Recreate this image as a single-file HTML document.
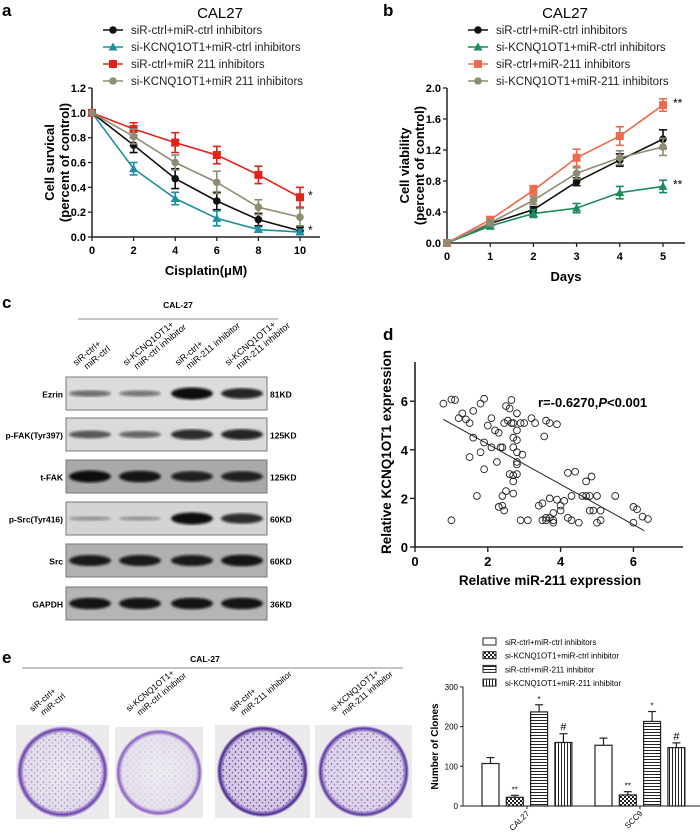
<!DOCTYPE html>
<html><head><meta charset="utf-8"><style>
body{margin:0;background:#fff;}
svg{display:block;font-family:"Liberation Sans",Arial,sans-serif;}
.b{font-weight:bold;}
</style></head><body>
<svg id="fig" width="700" height="838" viewBox="0 0 700 838">
<defs>
<filter id="blur1"><feGaussianBlur stdDeviation="1.2"/></filter>
<radialGradient id="dishLight" cx="50%" cy="50%" r="50%"><stop offset="0" stop-color="#ebe8ef"/><stop offset="0.85" stop-color="#e2dcea"/><stop offset="0.94" stop-color="#6a3fb0"/><stop offset="1" stop-color="#d8d2de"/></radialGradient>
<radialGradient id="dishVLight" cx="50%" cy="50%" r="50%"><stop offset="0" stop-color="#eeecf1"/><stop offset="0.86" stop-color="#e5e0ec"/><stop offset="0.95" stop-color="#8a5fc0"/><stop offset="1" stop-color="#dcd6e2"/></radialGradient>
<radialGradient id="dishDark" cx="50%" cy="50%" r="50%"><stop offset="0" stop-color="#ddd5e8"/><stop offset="0.86" stop-color="#d2c6e2"/><stop offset="0.95" stop-color="#4a2590"/><stop offset="1" stop-color="#d5cedd"/></radialGradient>
<radialGradient id="dishMid" cx="50%" cy="50%" r="50%"><stop offset="0" stop-color="#e5dfec"/><stop offset="0.86" stop-color="#dcd2e8"/><stop offset="0.95" stop-color="#5a35a0"/><stop offset="1" stop-color="#d8d2de"/></radialGradient>
<pattern id="dots" width="6" height="6" patternUnits="userSpaceOnUse"><circle cx="1.5" cy="2" r="0.9" fill="#5a30a8"/><circle cx="4.5" cy="4.8" r="0.7" fill="#6b42b8"/></pattern>
<pattern id="checker" width="4" height="4" patternUnits="userSpaceOnUse"><rect width="4" height="4" fill="#fff"/><rect width="2" height="2" fill="#222"/><rect x="2" y="2" width="2" height="2" fill="#222"/></pattern>
<pattern id="hlines" width="4" height="3" patternUnits="userSpaceOnUse"><rect width="4" height="3" fill="#fff"/><rect width="4" height="1" fill="#222"/></pattern>
<pattern id="vlines" width="3" height="4" patternUnits="userSpaceOnUse"><rect width="3" height="4" fill="#fff"/><rect width="1" height="4" fill="#222"/></pattern>
</defs>
<g id="panelA"></g>
<g id="panelB"></g>
<g id="panelC"></g>
<g id="panelD"></g>
<g id="panelE"></g>
<g id="panelE2"></g>
</svg>
<script>
// ---------- data ----------
const aX = [0,2,4,6,8,10];
const aBlack = [1,0.74,0.47,0.29,0.14,0.05];
const aTeal  = [1,0.55,0.31,0.15,0.06,0.04];
const aRed   = [1,0.87,0.76,0.66,0.50,0.32];
const aGray  = [1,0.81,0.60,0.44,0.24,0.16];
const aErrBlack=[0,0.06,0.08,0.07,0.05,0.03];
const aErrTeal=[0,0.05,0.05,0.06,0.02,0.02];
const aErrRed=[0,0.05,0.08,0.07,0.07,0.08];
const aErrGray=[0,0.06,0.06,0.09,0.06,0.07];
const aYTicks=["0.0","0.2","0.4","0.6","0.8","1.0","1.2"];
const aXTicks=["0","2","4","6","8","10"];
const aLegend=["siR-ctrl+miR-ctrl inhibitors","si-KCNQ1OT1+miR-ctrl inhibitors","siR-ctrl+miR 211 inhibitors","si-KCNQ1OT1+miR 211 inhibitors"];

const bX=[0,1,2,3,4,5];
const bBlack=[0,0.25,0.43,0.79,1.07,1.34];
const bGreen=[0,0.22,0.38,0.45,0.65,0.73];
const bRed=[0,0.30,0.68,1.10,1.38,1.78];
const bGray=[0,0.26,0.55,0.90,1.10,1.24];
const bErrBlack=[0,0.03,0.04,0.05,0.08,0.12];
const bErrGreen=[0,0.04,0.05,0.06,0.08,0.08];
const bErrRed=[0,0.04,0.06,0.11,0.12,0.08];
const bErrGray=[0,0.04,0.05,0.07,0.09,0.11];
const bYTicks=["0.0","0.4","0.8","1.2","1.6","2.0"];
const bLegend=["siR-ctrl+miR-ctrl inhibitors","si-KCNQ1OT1+miR-ctrl inhibitors","siR-ctrl+miR-211 inhibitors","si-KCNQ1OT1+miR-211 inhibitors"];

const dXs=[0.78,1.0,1.1,1.0,1.3,1.2,1.4,1.5,1.6,1.6,1.5,1.7,1.8,1.9,1.8,1.9,1.9,2.0,2.1,2.1,2.2,2.25,2.3,2.35,2.4,2.3,2.4,2.4,2.45,2.5,2.45,2.5,2.55,2.6,2.65,2.6,2.7,2.65,2.7,2.7,2.7,2.7,2.7,2.8,2.8,2.8,2.8,2.8,2.8,2.8,2.95,2.9,3.0,2.9,3.1,3.2,3.3,3.4,3.5,3.55,3.6,3.7,3.5,3.6,3.6,3.7,3.7,3.8,3.8,3.8,3.9,3.9,4.0,4.0,4.1,4.2,4.2,4.3,4.3,4.4,4.5,4.6,4.7,4.7,4.8,4.8,4.85,4.9,5.0,5.0,5.1,5.1,5.5,6.0,6.1,6.0,6.25,6.4];
const dYs=[5.9,6.07,6.05,1.1,5.5,5.3,5.25,5.1,5.6,4.5,3.7,2.1,5.9,6.1,3.9,3.2,4.3,5.0,5.3,4.1,4.8,3.5,4.7,4.1,4.1,1.65,1.7,2.1,1.5,2.3,5.1,5.8,5.2,5.7,5.1,3.0,5.1,6.05,4.5,4.1,2.95,2.7,2.2,4.4,3.5,3.4,3.0,4.8,5.5,3.9,3.8,5.1,5.1,1.1,1.1,5.3,5.1,1.7,1.8,4.55,5.2,5.1,1.1,1.2,1.1,1.2,2.0,1.1,1.4,1.0,5.05,1.95,1.7,1.5,1.9,3.05,1.2,1.1,2.1,3.1,1.0,2.1,2.1,2.7,2.1,1.5,2.9,1.5,2.1,1.0,1.5,1.1,2.1,1.65,1.55,1.0,1.25,1.15];
const dXTicks=["0","2","4","6"];
const dYTicks=["0","2","4","6"];

const eGroups=["CAL27","SCC9"];
const eVals=[[107,22,237,160],[153,28,213,147]];
const eErrs=[[15,5,18,22],[18,8,25,12]];
const eMarks=[["","**","*","#"],["","**","*","#"]];
const eYTicks=["0","100","200","300"];
const eLegend=["siR-ctrl+miR-ctrl inhibitors","si-KCNQ1OT1+miR-ctrl inhibitor","siR-ctrl+miR-211 inhibitor","si-KCNQ1OT1+miR-211 inhibitor"];

const blotRows=["Ezrin","p-FAK(Tyr397)","t-FAK","p-Src(Tyr416)","Src","GAPDH"];
const blotKD=["81KD","125KD","125KD","60KD","60KD","36KD"];
const blotInt=[[0.4,0.35,1,0.85],[0.55,0.45,0.8,0.85],[1,0.95,0.85,0.85],[0.15,0.15,1,0.8],[0.9,0.9,0.9,0.95],[0.95,0.95,0.95,0.95]];
const laneLabels=[["siR-ctrl+","miR-ctrl"],["si-KCNQ1OT1+","miR-ctrl inhibitor"],["siR-ctrl+","miR-211 inhibitor"],["si-KCNQ1OT1+","miR-211 inhibitor"]];

// ---------- helpers ----------
const NS="http://www.w3.org/2000/svg";
function mk(parent,tag,attrs,text){const e=document.createElementNS(NS,tag);for(const k in attrs)e.setAttribute(k,attrs[k]);if(text!==undefined)e.textContent=text;parent.appendChild(e);return e;}

// ---------- line chart ----------
function lineChart(g,cfg){
  const sx=v=>cfg.x0+(v-cfg.xmin)/(cfg.xmax-cfg.xmin)*(cfg.x1-cfg.x0);
  const sy=v=>cfg.y0-(v-cfg.ymin)/(cfg.ymax-cfg.ymin)*(cfg.y0-cfg.y1);
  let t=mk(g,'text',{x:cfg.letterX,y:16,'font-size':17,class:'b'},cfg.letter);
  
  
  t=mk(g,'text',{x:cfg.titleX,y:18,'font-size':15,'text-anchor':'middle'},'CAL27');
  
  
  cfg.series.forEach((s,i)=>{
    const ly=30+i*17;
    const lg=mk(g,'g',{});
    
    
    mk(lg,'line',{x1:cfg.legX,x2:cfg.legX+20,y1:ly,y2:ly,stroke:s.color,'stroke-width':1.5});
    marker(lg,s.shape,cfg.legX+10,ly,s.color);
    mk(lg,'text',{x:cfg.legX+28,y:ly+4,'font-size':11.5,fill:'#222'},cfg.legend[i]);
  });
  const ax=mk(g,'g',{});
  
  
  mk(ax,'line',{x1:cfg.x0,x2:cfg.x0,y1:cfg.y1,y2:cfg.y0,stroke:'#222','stroke-width':1.5});
  mk(ax,'line',{x1:cfg.x0,x2:cfg.axEnd,y1:cfg.y0,y2:cfg.y0,stroke:'#222','stroke-width':1.5});
  cfg.yTicks.forEach(v=>{const y=sy(parseFloat(v));
    mk(ax,'line',{x1:cfg.x0-4,x2:cfg.x0,y1:y,y2:y,stroke:'#222','stroke-width':1.3});
    const tt=mk(ax,'text',{x:cfg.x0-6,y:y+4,'font-size':11,'text-anchor':'end',class:'b'},v);
    
    
  });
  cfg.xTicks.forEach(v=>{const x=sx(parseFloat(v));
    mk(ax,'line',{x1:x,x2:x,y1:cfg.y0,y2:cfg.y0+4,stroke:'#222','stroke-width':1.3});
    const tt=mk(ax,'text',{x:x,y:cfg.y0+17,'font-size':11,'text-anchor':'middle',class:'b'},v);
    
    
  });
  t=mk(ax,'text',{x:(cfg.x0+cfg.axEnd)/2,y:cfg.y0+38,'font-size':13,'text-anchor':'middle',class:'b'},cfg.xTitle);
  
  
  const cy=(cfg.y0+cfg.y1)/2;
  t=mk(ax,'text',{x:0,y:0,'font-size':13,'text-anchor':'middle',class:'b',transform:`translate(${cfg.x0-38},${cy}) rotate(-90)`},cfg.yTitle1);
  
  
  t=mk(ax,'text',{x:0,y:0,'font-size':13,'text-anchor':'middle',class:'b',transform:`translate(${cfg.x0-23},${cy}) rotate(-90)`},'(percent of control)');
  
  
  cfg.series.forEach(s=>{
    const sg=mk(g,'g',{});
    
    
    const pts=cfg.xs.map((x,i)=>sx(x)+','+sy(s.vals[i])).join(' ');
    mk(sg,'polyline',{points:pts,fill:'none',stroke:s.color,'stroke-width':1.6});
    cfg.xs.forEach((x,i)=>{
      const px=sx(x),e=s.err[i];
      if(e>0){const ya=sy(s.vals[i]+e),yb=sy(s.vals[i]-e);
        mk(sg,'line',{x1:px,x2:px,y1:ya,y2:yb,stroke:s.color,'stroke-width':1.6});
        mk(sg,'line',{x1:px-4,x2:px+4,y1:ya,y2:ya,stroke:s.color,'stroke-width':1.6});
        mk(sg,'line',{x1:px-4,x2:px+4,y1:yb,y2:yb,stroke:s.color,'stroke-width':1.6});}
      const m=marker(sg,s.shape,px,sy(s.vals[i]),s.color);
      
      
    });
    if(s.star){const li=cfg.xs.length-1;mk(sg,'text',{x:sx(cfg.xs[li])+cfg.starDx,y:sy(s.vals[li])+cfg.starDy,'font-size':12},s.star);}
  });
}
function marker(g,shape,x,y,c){
  if(shape==='sq')return mk(g,'rect',{x:x-4,y:y-4,width:8,height:8,fill:c});
  if(shape==='tri')return mk(g,'polygon',{points:`${x},${y-4.5} ${x-4.5},${y+3.5} ${x+4.5},${y+3.5}`,fill:c});
  return mk(g,'circle',{cx:x,cy:y,r:3.8,fill:c});
}

lineChart(document.getElementById('panelA'),{letter:'a',letterX:2,titleX:220,legX:103,legend:aLegend,
  x0:92,x1:300,xmin:0,xmax:10,y0:237,y1:88,ymin:0,ymax:1.2,axEnd:320,xs:aX,yTicks:aYTicks,xTicks:aXTicks,
  xTitle:'Cisplatin(\u03bcM)',yTitle1:'Cell survical',starDx:8,starDy:2,
  series:[{name:'siR-ctrl',vals:aBlack,err:aErrBlack,color:'#111',shape:'c'},
          {name:'si-KCNQ1OT1',vals:aTeal,err:aErrTeal,color:'#1e8fa0',shape:'tri',star:'*'},
          {name:'miR211',vals:aRed,err:aErrRed,color:'#e2231a',shape:'sq',star:'*'},
          {name:'si-KCNQ1OT1-miR211',vals:aGray,err:aErrGray,color:'#8f8c72',shape:'c'}]});
lineChart(document.getElementById('panelB'),{letter:'b',letterX:383,titleX:565,legX:468,legend:bLegend,
  x0:447,x1:663,xmin:0,xmax:5,y0:243,y1:88,ymin:0,ymax:2.0,axEnd:685,xs:bX,yTicks:bYTicks,xTicks:bX.map(String),
  xTitle:'Days',yTitle1:'Cell viability',starDx:10,starDy:2,
  series:[{name:'siR-ctrl',vals:bBlack,err:bErrBlack,color:'#111',shape:'c'},
          {name:'si-KCNQ1OT1',vals:bGreen,err:bErrGreen,color:'#1a8c5a',shape:'tri',star:'**'},
          {name:'miR211',vals:bRed,err:bErrRed,color:'#ec6a4e',shape:'sq',star:'**'},
          {name:'si-KCNQ1OT1-miR211',vals:bGray,err:bErrGray,color:'#8f8c72',shape:'c'}]});

// ---------- panel c: blot ----------
(function(){
  const g=document.getElementById('panelC');
  let t=mk(g,'text',{x:2,y:308,'font-size':17,class:'b'},'c');
  
  
  t=mk(g,'text',{x:178,y:308,'font-size':8.5,'text-anchor':'middle',class:'b'},'CAL-27');
  
  
  mk(g,'line',{x1:78,x2:278,y1:319,y2:319,stroke:'#888','stroke-width':1});
  const lanes=[90,140,192,242];
  laneLabels.forEach((l,i)=>{
    const tt=mk(g,'text',{x:0,y:0,'font-size':9,transform:`translate(${lanes[i]-14},${366}) rotate(-40)`});
    
    
    mk(tt,'tspan',{x:0,y:0},l[0]);mk(tt,'tspan',{x:6,y:10},l[1]);
  });
  const rowsY=[377,418,460,502,544,587],h=33;
  const bg=['#dcdcdc','#dadada','#a9a9a9','#d4d4d4','#b1b1b1','#b5b5b5'];
  blotRows.forEach((name,r)=>{
    const rg=mk(g,'g',{});
    
    
    const y=rowsY[r];
    mk(rg,'rect',{x:66,y:y,width:201,height:h,fill:bg[r],stroke:'#777','stroke-width':1});
    lanes.forEach((lx,i)=>{
      const v=blotInt[r][i];
      const band=mk(rg,'ellipse',{cx:lx,cy:y+h/2,rx:21,ry:1.5+v*4.5,fill:'#111','fill-opacity':(0.25+v*0.75).toFixed(2),filter:'url(#blur1)'});
      
      
    });
    mk(rg,'text',{x:63,y:y+h/2+4,'font-size':8.5,'text-anchor':'end',class:'b'},name);
    mk(rg,'text',{x:270,y:y+h/2+4,'font-size':8.5,class:'b'},blotKD[r]);
  });
})();

// ---------- panel d: scatter ----------
(function(){
  const g=document.getElementById('panelD');
  const x0=415,y0=547,pxX=36.4,pxY=24.3;
  const sx=v=>x0+v*pxX, sy=v=>y0-v*pxY;
  let t=mk(g,'text',{x:383,y:340,'font-size':17,class:'b'},'d');
  
  
  mk(g,'line',{x1:x0,x2:x0,y1:362,y2:y0,stroke:'#222','stroke-width':1.6});
  mk(g,'line',{x1:x0,x2:683,y1:y0,y2:y0,stroke:'#222','stroke-width':1.6});
  dXTicks.forEach(v=>{const x=sx(+v);mk(g,'line',{x1:x,x2:x,y1:y0,y2:y0+5,stroke:'#222','stroke-width':1.4});
    const tt=mk(g,'text',{x:x,y:y0+19,'font-size':13,'text-anchor':'middle',class:'b'},v);
    
    });
  dYTicks.forEach(v=>{const y=sy(+v);mk(g,'line',{x1:x0-5,x2:x0,y1:y,y2:y,stroke:'#222','stroke-width':1.4});
    const tt=mk(g,'text',{x:x0-7,y:y+5,'font-size':13,'text-anchor':'end',class:'b'},v);
    
    });
  t=mk(g,'text',{x:550,y:585,'font-size':13.5,'text-anchor':'middle',class:'b'},'Relative miR-211 expression');
  
  
  t=mk(g,'text',{x:0,y:0,'font-size':13.5,'text-anchor':'middle',class:'b',transform:'translate(391,452) rotate(-90)'},'Relative KCNQ1OT1 expression');
  
  
  t=mk(g,'text',{x:538,y:407,'font-size':13,class:'b'});
  
  
  mk(t,'tspan',{},'r=-0.6270,');mk(t,'tspan',{'font-style':'italic'},'P');mk(t,'tspan',{},'<0.001');
  dXs.forEach((x,i)=>{const c=mk(g,'circle',{cx:sx(x),cy:sy(dYs[i]),r:3.4,fill:'none',stroke:'#222','stroke-width':0.9});
    
    });
  const n=dXs.length;let mx=0,my=0;dXs.forEach((x,i)=>{mx+=x;my+=dYs[i];});mx/=n;my/=n;
  let sxy=0,sxx=0;dXs.forEach((x,i)=>{sxy+=(x-mx)*(dYs[i]-my);sxx+=(x-mx)*(x-mx);});
  const b=sxy/sxx,a=my-b*mx;const xa=Math.min(...dXs),xb=6.3;
  const rl=mk(g,'line',{x1:sx(xa),y1:sy(a+b*xa),x2:sx(xb),y2:sy(a+b*xb),stroke:'#222','stroke-width':1});
  
  
})();

// ---------- panel e: dishes ----------
(function(){
  const g=document.getElementById('panelE');
  let t=mk(g,'text',{x:2,y:663,'font-size':17,class:'b'},'e');
  
  
  t=mk(g,'text',{x:205,y:662,'font-size':8.5,'text-anchor':'middle',class:'b'},'CAL-27');
  
  
  mk(g,'line',{x1:22,x2:403,y1:668,y2:668,stroke:'#888','stroke-width':1});
  const dishes=[[16,725,93,94,'dishLight',0.45],[115,727,88,91,'dishVLight',0.15],[215,725,95,93,'dishDark',0.95],[315,725,97,93,'dishMid',0.7]];
  dishes.forEach((d,i)=>{
    const dg=mk(g,'g',{});
    
    
    mk(dg,'rect',{x:d[0],y:d[1],width:d[2],height:d[3],fill:'#ebe9ec'});
    const cx=d[0]+d[2]/2,cy=d[1]+d[3]/2,r=Math.min(d[2],d[3])/2-1;
    mk(dg,'circle',{cx:cx,cy:cy,r:r,fill:'url(#'+d[4]+')'});
    mk(dg,'circle',{cx:cx,cy:cy,r:r-5,fill:'url(#dots)','fill-opacity':d[5]});
    const ll=laneLabels[i];
    const tt=mk(g,'text',{x:0,y:0,'font-size':8.5,transform:`translate(${cx-30},${712}) rotate(-40)`});
    
    
    mk(tt,'tspan',{x:0,y:0},ll[0]);mk(tt,'tspan',{x:6,y:10},ll[1]);
  });
})();

// ---------- panel e: bars ----------
(function(){
  const g=document.getElementById('panelE2');
  const x0=463,y0=806,pxPer=0.397;
  const sy=v=>y0-v*pxPer;
  const fills=['#fff','url(#checker)','url(#hlines)','url(#vlines)'];
  eLegend.forEach((l,i)=>{const y=642+i*13.7;
    const lg=mk(g,'g',{});
    
    
    mk(lg,'rect',{x:483,y:y-4,width:13,height:7,fill:fills[i],stroke:'#222','stroke-width':1});
    mk(lg,'text',{x:505,y:y+3,'font-size':8},l);});
  mk(g,'line',{x1:x0,x2:x0,y1:sy(300),y2:y0,stroke:'#222','stroke-width':1});
  mk(g,'line',{x1:x0,x2:700,y1:y0,y2:y0,stroke:'#222','stroke-width':1});
  eYTicks.forEach(v=>{const y=sy(+v);mk(g,'line',{x1:x0-3,x2:x0,y1:y,y2:y,stroke:'#222'});
    const tt=mk(g,'text',{x:x0-5,y:y+3,'font-size':8,'text-anchor':'end'},v);
    
    });
  let t=mk(g,'text',{x:0,y:0,'font-size':10,'text-anchor':'middle',class:'b',transform:`translate(438,${sy(150)}) rotate(-90)`},'Number of Clones');
  
  
  const groupStart=[482,595],bw=17,step=24.3;
  eGroups.forEach((gn,gi)=>{
    eVals[gi].forEach((v,bi)=>{
      const x=groupStart[gi]+bi*step;
      const r=mk(g,'rect',{x:x,y:sy(v),width:bw,height:y0-sy(v),fill:fills[bi],stroke:'#222','stroke-width':1.2});
      
      
      const ey=sy(v+eErrs[gi][bi]),cx=x+bw/2;
      mk(g,'line',{x1:cx,x2:cx,y1:ey,y2:sy(v),stroke:'#222','stroke-width':1.2});
      mk(g,'line',{x1:cx-4,x2:cx+4,y1:ey,y2:ey,stroke:'#222','stroke-width':1.2});
      const m=eMarks[gi][bi];
      if(m)mk(g,'text',{x:cx,y:ey-3,'font-size':m==='#'?11:8,'text-anchor':'middle'},m);
    });
    const gc=groupStart[gi]+1.5*step+bw/2;
    mk(g,'line',{x1:gc,x2:gc,y1:y0,y2:y0+3,stroke:'#222'});
    const tt=mk(g,'text',{x:0,y:0,'font-size':8,'text-anchor':'end',transform:`translate(${gc+3},${y0+8}) rotate(-45)`},gn);
    
    
  });
})();
</script>
</body></html>
